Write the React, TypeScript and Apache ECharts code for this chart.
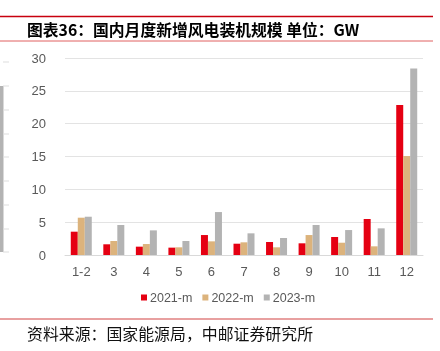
import React, { useEffect, useRef } from "react";
import * as echarts from "echarts";

const categories = ["1-2", "3", "4", "5", "6", "7", "8", "9", "10", "11", "12"];
const seriesNames = ["2021-m", "2022-m", "2023-m"];
const values2021 = [3.55, 1.63, 1.27, 1.12, 3.04, 1.72, 1.98, 1.78, 2.74, 5.48, 22.83];
const values2022 = [5.68, 2.13, 1.67, 1.17, 2.08, 1.93, 1.17, 3.04, 1.87, 1.32, 15.07];
const values2023 = [5.83, 4.57, 3.75, 2.13, 6.54, 3.3, 2.59, 4.57, 3.8, 4.06, 28.4];
const colors = ["#e50012", "#dcb37c", "#b3b3b3"];
const titleText = "图表36：国内月度新增风电装机规模 单位：GW";
const sourceText = "资料来源：国家能源局，中邮证券研究所";
const leftTickYs = [62, 86, 110, 134, 157, 181, 205, 229, 252];

export default function App() {
  const ref = useRef<HTMLDivElement>(null);
  useEffect(() => {
    if (!ref.current) return;
    const chart = echarts.init(ref.current, null, { renderer: "svg" });
    const seriesData = [values2021, values2022, values2023];
    const graphics: any[] = [
      { type: "line", shape: { x1: 0, y1: 16.5, x2: 433, y2: 16.5 }, style: { stroke: "#c8000f", lineWidth: 1.5 } },
      { type: "line", shape: { x1: 0, y1: 41, x2: 433, y2: 41 }, style: { stroke: "#e06060", lineWidth: 1 } },
      {
        type: "text", x: 27, y: 29,
        style: { text: titleText, fill: "#000", font: 'bold 15.8px "Noto Sans CJK SC"', textVerticalAlign: "middle" },
      },
      { type: "line", shape: { x1: 0, y1: 319, x2: 433, y2: 319 }, style: { stroke: "#e08080", lineWidth: 1.5 } },
      {
        type: "text", x: 27, y: 333,
        style: { text: sourceText, fill: "#111", font: '15.9px "Noto Sans CJK SC"', textVerticalAlign: "middle" },
      },
      { type: "rect", shape: { x: 0, y: 86, width: 3.5, height: 166 }, style: { fill: "#b3b3b3" } },
    ];
    leftTickYs.forEach((y) => {
      graphics.push({ type: "line", shape: { x1: 3, y1: y, x2: 9, y2: y }, style: { stroke: "#dddddd", lineWidth: 1 } });
    });
    chart.setOption({
      animation: false,
      color: colors,
      grid: { left: 65, right: 17, top: 58, bottom: 96 },
      legend: {
        data: seriesNames,
        left: 136,
        top: 286,
        itemWidth: 6,
        itemHeight: 6,
        itemGap: 10,
        icon: "rect",
        textStyle: { color: "#595959", fontSize: 12.5, fontFamily: "Liberation Sans", padding: [0, 0, 0, -2] },
      },
      xAxis: {
        type: "category",
        data: categories,
        axisLine: { lineStyle: { color: "#d9d9d9" } },
        axisTick: { show: false },
        axisLabel: { color: "#595959", fontSize: 13, fontFamily: "Liberation Sans", margin: 10 },
      },
      yAxis: {
        type: "value",
        min: 0,
        max: 30,
        interval: 5,
        axisLine: { show: false },
        axisTick: { show: false },
        splitLine: { lineStyle: { color: "#e3e3e3" } },
        axisLabel: { color: "#595959", fontSize: 13, fontFamily: "Liberation Sans", margin: 19 },
      },
      series: seriesNames.map((name, i) => ({
        name,
        type: "bar",
        data: seriesData[i],
        barWidth: 7,
        barGap: "0%",
      })),
      graphic: graphics,
    });
    return () => chart.dispose();
  }, []);
  return <div ref={ref} style={{ position: "fixed", left: 0, top: 0, width: 440, height: 351 }} />;
}
